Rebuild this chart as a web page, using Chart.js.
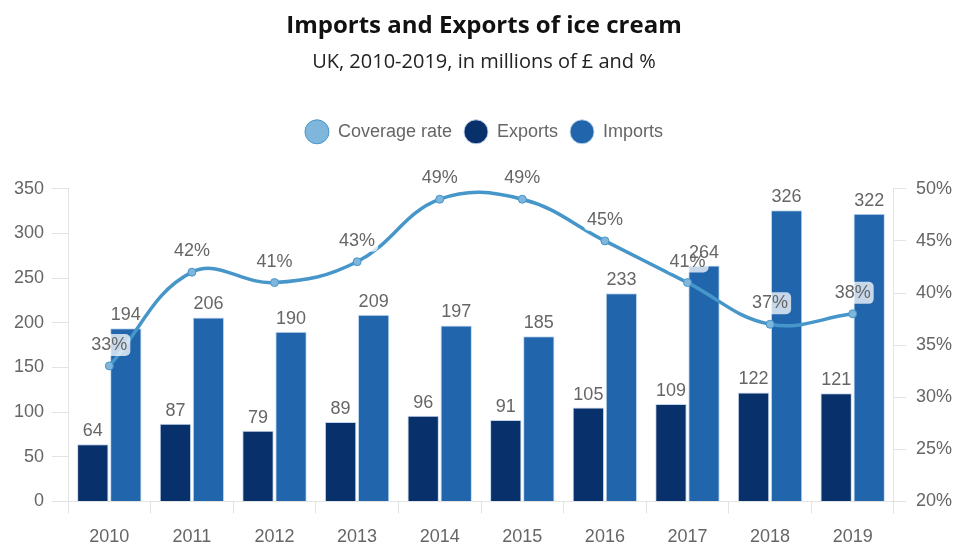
<!DOCTYPE html>
<html>
<head>
<meta charset="utf-8">
<script src="https://cdn.jsdelivr.net/npm/chart.js@4"></script>
<style>
    html, body { margin: 0; padding: 0; background: #fff; }
    #wrap { width: 955px; height: 545px; }
</style>
</head>
<body>
<div id="wrap"><canvas id="iceCreamChart"></canvas></div>
<script>
// data
const years = ['2010', '2011', '2012', '2013', '2014', '2015', '2016', '2017', '2018', '2019'];
const exportsValues = [64, 87, 79, 89, 96, 91, 105, 109, 122, 121];
const importsValues = [194, 206, 190, 209, 197, 185, 233, 264, 326, 322];
const coverageRate = [33, 42, 41, 43, 49, 49, 45, 41, 37, 38];

// colours
const exportsColor = '#08306b';
const importsColor = '#2166ac';
const lineColor = '#4696c9';
const labelGray = '#666666';
const axisGray = '#e3e3e3';
const tickFont = '"Liberation Sans", Arial, sans-serif';

// extra room between the legend and the plot
const legendGap = {
    id: 'legendGap',
    beforeInit(chart) {
        const fit = chart.legend.fit;
        chart.legend.fit = function () {
            fit.bind(chart.legend)();
            this.height += 38;
        };
    },
};

// value labels above bars and line points
const valueLabels = {
    id: 'valueLabels',
    afterDatasetsDraw(chart) {
        const ctx = chart.ctx;
        ctx.save();
        ctx.textAlign = 'center';
        ctx.textBaseline = 'middle';
        ctx.font = '18px ' + tickFont;

        // line labels with a soft white box
        const lineMeta = chart.getDatasetMeta(0);
        lineMeta.data.forEach((pt, i) => {
            const text = coverageRate[i] + '%';
            const w = ctx.measureText(text).width + 6;
            const h = 22;
            const x = pt.x;
            const y = pt.y - 21;
            ctx.fillStyle = 'rgba(255,255,255,0.75)';
            ctx.beginPath();
            ctx.roundRect(x - w / 2, y - h / 2, w, h, 5);
            ctx.fill();
            ctx.fillStyle = labelGray;
            ctx.fillText(text, x, y);
        });

        // bar labels
        [1, 2].forEach((di) => {
            const meta = chart.getDatasetMeta(di);
            const values = chart.data.datasets[di].data;
            meta.data.forEach((bar, i) => {
                ctx.fillStyle = labelGray;
                ctx.fillText(String(values[i]), bar.x, bar.y - 13);
            });
        });
        ctx.restore();
    },
};

const ctx = document.getElementById('iceCreamChart').getContext('2d');
new Chart(ctx, {
    type: 'bar',
    data: {
        labels: years,
        datasets: [
            {
                type: 'line',
                label: 'Coverage rate',
                data: coverageRate,
                yAxisID: 'yRate',
                borderColor: lineColor,
                backgroundColor: '#9ecae1',
                borderWidth: 3.5,
                tension: 0.4,
                pointRadius: 4,
                pointBackgroundColor: '#7fb6dc',
                pointBorderColor: lineColor,
                pointBorderWidth: 1,
                order: 0,
            },
            {
                label: 'Exports',
                data: exportsValues,
                yAxisID: 'yValue',
                backgroundColor: exportsColor,
                borderColor: 'rgba(190,210,235,0.9)',
                borderWidth: 1,
                categoryPercentage: 0.8,
                barPercentage: 0.95,
                order: 1,
            },
            {
                label: 'Imports',
                data: importsValues,
                yAxisID: 'yValue',
                backgroundColor: importsColor,
                borderColor: 'rgba(190,215,240,0.9)',
                borderWidth: 1,
                categoryPercentage: 0.8,
                barPercentage: 0.95,
                order: 1,
            },
        ],
    },
    options: {
        responsive: true,
        maintainAspectRatio: false,
        animation: false,
        layout: { padding: { left: 6, right: -7, top: 12, bottom: -16 } },
        plugins: {
            title: {
                display: true,
                text: 'Imports and Exports of ice cream',
                color: '#111',
                font: { family: '"Open Sans", sans-serif', size: 24, weight: 'bold' },
                padding: { top: 0, bottom: 9 },
            },
            subtitle: {
                display: true,
                text: 'UK, 2010-2019, in millions of £ and %',
                color: '#222',
                font: { family: '"Open Sans", sans-serif', size: 20 },
                padding: { bottom: 37 },
            },
            legend: {
                position: 'top',
                labels: {
                    usePointStyle: true,
                    pointStyle: 'circle',
                    pointStyleWidth: 24,
                    boxHeight: 17,
                    color: labelGray,
                    font: { family: tickFont, size: 18 },
                    padding: 12,
                },
            },
            tooltip: { enabled: false },
        },
        scales: {
            x: {
                grid: { drawOnChartArea: false, color: axisGray, tickLength: 12 },
                border: { color: axisGray },
                ticks: {
                    color: labelGray,
                    padding: 13,
                    font: { family: tickFont, size: 18 },
                },
            },
            yValue: {
                position: 'left',
                min: 0,
                max: 350,
                ticks: {
                    stepSize: 50,
                    color: labelGray,
                    padding: 8,
                    font: { family: tickFont, size: 18 },
                },
                grid: { drawOnChartArea: false, color: axisGray, tickLength: 16 },
                border: { color: axisGray },
            },
            yRate: {
                position: 'right',
                min: 20,
                max: 50,
                ticks: {
                    stepSize: 5,
                    color: labelGray,
                    padding: 10,
                    font: { family: tickFont, size: 18 },
                    callback: (v) => v + '%',
                },
                grid: { drawOnChartArea: false, color: axisGray, tickLength: 12 },
                border: { color: axisGray },
            },
        },
    },
    plugins: [legendGap, valueLabels],
});
</script>
</body>
</html>
